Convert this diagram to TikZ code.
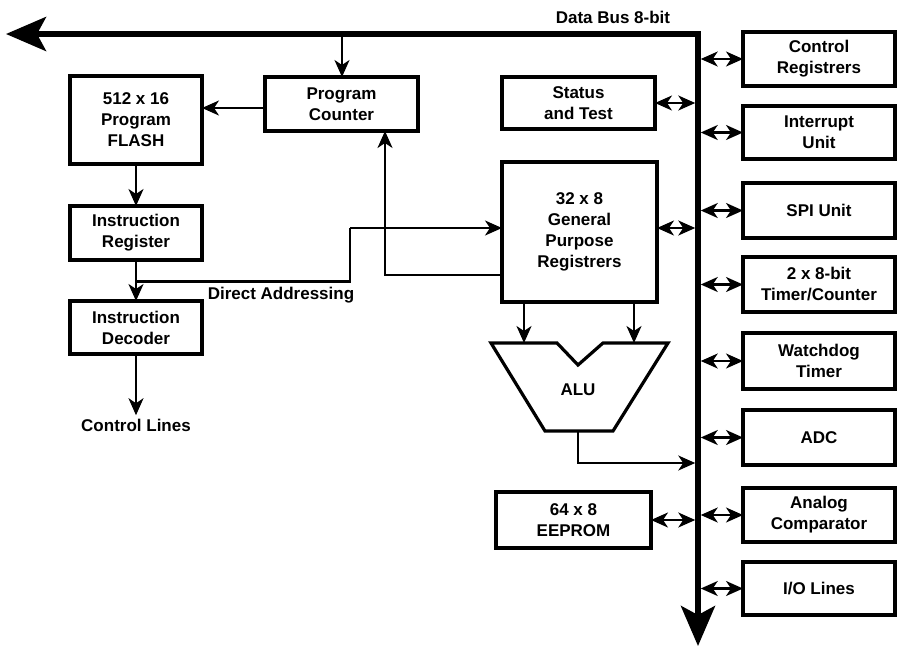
\documentclass[tikz,border=0pt]{standalone}
\usepackage{fontspec}
\setmainfont{Liberation Sans}
\usetikzlibrary{arrows.meta}
\begin{document}
\begin{tikzpicture}[x=1pt,y=-1pt,
  every node/.style={font=\bfseries\fontsize{17}{21}\selectfont},
  box/.style={draw, line width=3.2pt, inner sep=0pt, outer sep=0pt, align=center},
  arr/.style={line width=2.2pt, -{Stealth[length=17pt,width=15pt,inset=5pt]}},
  dbl/.style={line width=2.2pt, {Stealth[length=17pt,width=15pt,inset=5pt]}-{Stealth[length=17pt,width=15pt,inset=5pt]}},
  bus/.style={line width=5.5pt, line join=miter, {Stealth[length=40pt,width=34pt,inset=9pt]}-{Stealth[length=40pt,width=34pt,inset=9pt]}}
]
\useasboundingbox (0,0) rectangle (898,646);
% bus
\coordinate (busL) at (6,34);
\coordinate (busC) at (698,34);
\coordinate (busB) at (698,646);
\draw[bus] (busL) -- (busC) -- (busB);
\node at (613,17) (dblabel) {Data Bus 8-bit};

% left column
\node[box, minimum width=132pt, minimum height=88pt] (flash) at (136,120) {512 x 16\\Program\\FLASH};
\node[box, minimum width=153pt, minimum height=54pt] (pc) at (341.5,104) {Program\\Counter};
\node[box, minimum width=132pt, minimum height=54pt] (ir) at (136,233) {Instruction\\Register};
\node[box, minimum width=132pt, minimum height=53pt] (id) at (136,327.5) {Instruction\\Decoder};
\node (cl) at (136,425) {Control Lines};
\node (dalabel) at (281,295) {Direct Addressing};

% middle column
\node[box, minimum width=153pt, minimum height=52pt] (status) at (578.5,103) {Status\\and Test};
\node[box, minimum width=155pt, minimum height=140pt] (gpr) at (579.5,232) {32 x 8\\General\\Purpose\\Registrers};
\node[box, minimum width=155pt, minimum height=56pt] (eeprom) at (573.5,520) {64 x 8\\EEPROM};

% ALU
\draw[line width=3.2pt, line join=miter] (491,343) -- (557,343) -- (578,365) -- (603,343) -- (668,343) -- (613,431) -- (545,431) -- cycle;
\node (alu) at (578,390) {ALU};

% right column
\node[box, minimum width=152pt, minimum height=54pt] (ctrl) at (819,59) {Control\\Registrers};
\node[box, minimum width=152pt, minimum height=53pt] (intr) at (819,132.5) {Interrupt\\Unit};
\node[box, minimum width=152pt, minimum height=55pt] (spi) at (819,210.5) {SPI Unit};
\node[box, minimum width=152pt, minimum height=55pt] (timer) at (819,284.5) {2 x 8-bit\\Timer/Counter};
\node[box, minimum width=152pt, minimum height=56pt] (wdt) at (819,361) {Watchdog\\Timer};
\node[box, minimum width=152pt, minimum height=55pt] (adc) at (819,437.5) {ADC};
\node[box, minimum width=152pt, minimum height=54pt] (acomp) at (819,515) {Analog\\Comparator};
\node[box, minimum width=152pt, minimum height=53pt] (io) at (819,588.5) {I/O Lines};

% bus connections
\coordinate (bx) at (700.75,0);
\coordinate (bxl) at (695.25,0);
\foreach \n in {ctrl,intr,spi,timer,wdt,adc,acomp,io}
  \draw[dbl] (\n.west) -- (\n.west -| bx);
\draw[dbl] (status.east) -- (status.east -| bxl);
\coordinate (gprE) at (657,228);
\draw[dbl] (gprE) -- (gprE -| bxl);
\draw[dbl] (eeprom.east) -- (eeprom.east -| bxl);

% program counter paths
\coordinate (pctap) at (342,36.5);
\draw[arr] (pctap) -- (pctap |- pc.north);
\coordinate (pcW) at (265,108);
\draw[arr] (pcW) -- (pcW -| flash.east);
\draw[arr] (flash.south) -- (ir.north);
\draw[arr] (ir.south) -- (id.north);
\draw[arr] (id.south) -- (cl.north);

% direct addressing
\coordinate (da) at (136,281.5);
\coordinate (daup) at (350,228);
\coordinate (gprW) at (502,228);
\draw[line width=2.2pt] (da) -| (daup);
\draw[arr] (daup) -- (gprW);
\coordinate (gprW2) at (502,275);
\coordinate (pcin) at (385,131);
\draw[arr] (gprW2) -| (pcin);

% ALU connections
\coordinate (aluL) at (524,343);
\coordinate (aluR) at (634,343);
\draw[arr] (gpr.south -| aluL) -- (aluL);
\draw[arr] (gpr.south -| aluR) -- (aluR);
\coordinate (aluo) at (578,431);
\coordinate (aluin) at (695.25,463);
\draw[arr] (aluo) |- (aluin);
\end{tikzpicture}
\end{document}
